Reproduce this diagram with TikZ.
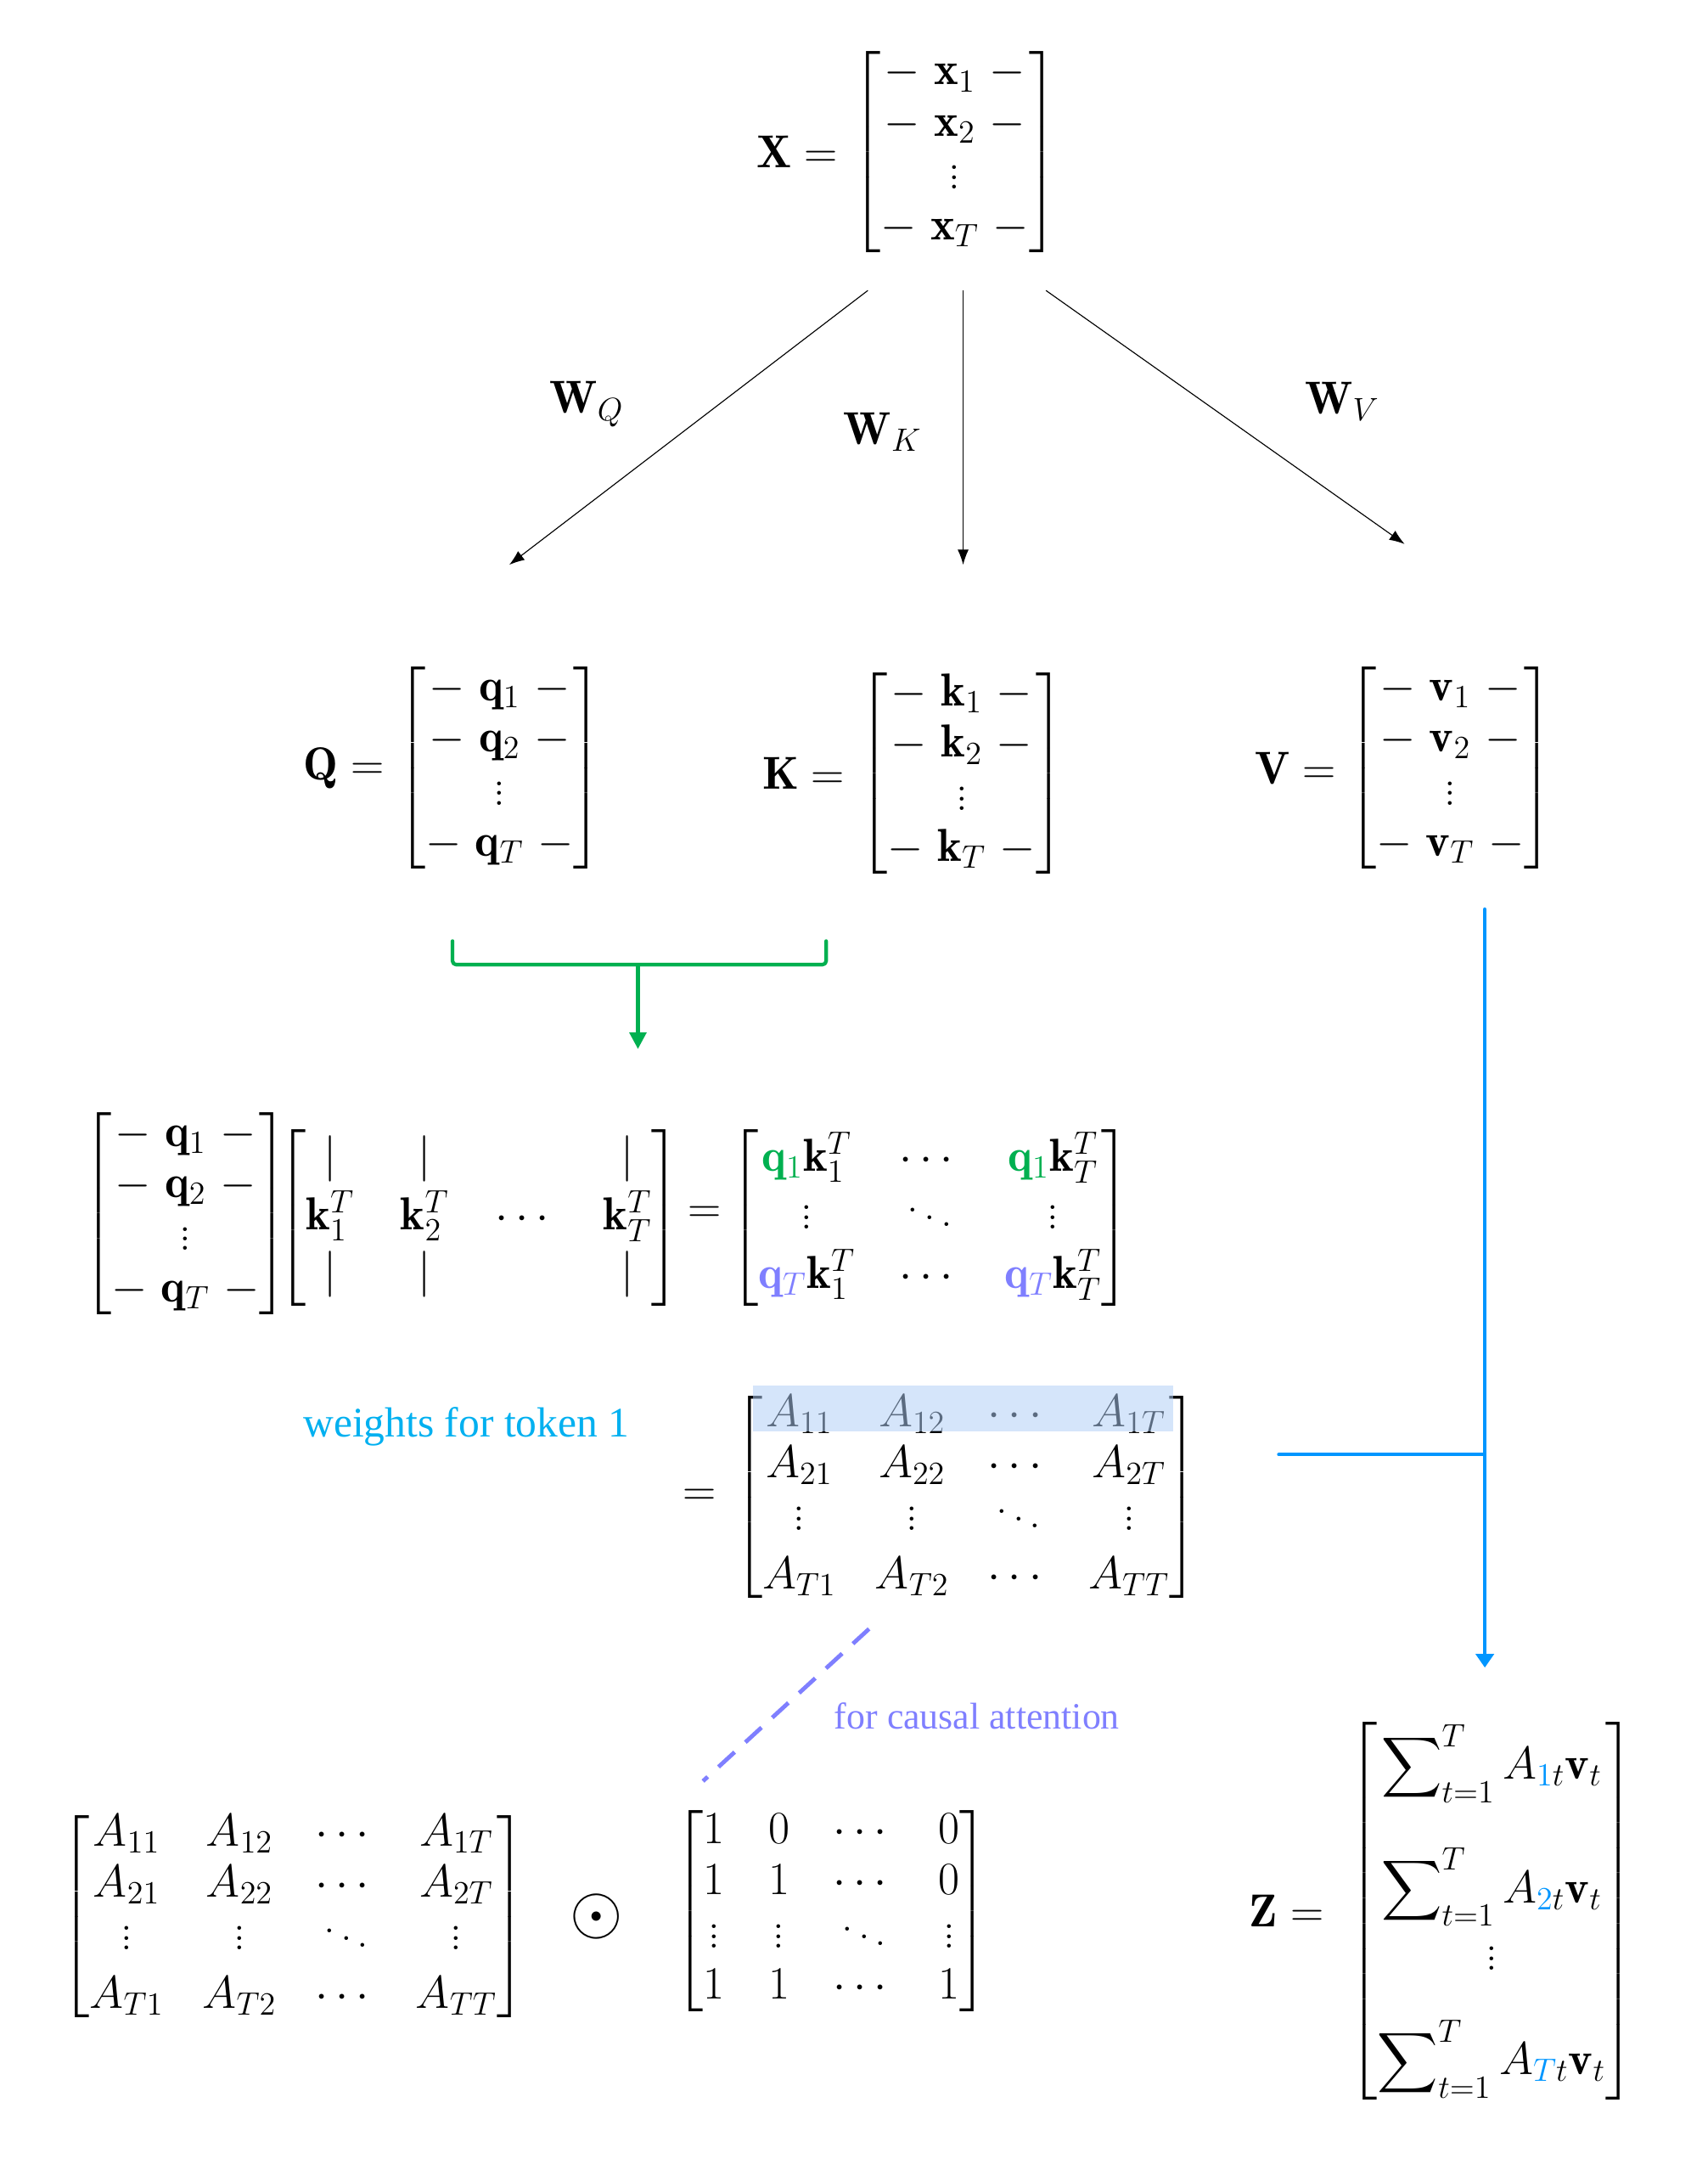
\RequirePackage{fix-cm}
\documentclass[tikz,border=0pt]{standalone}
\usepackage{amsmath}
\usepackage{fontspec}
\newfontfamily\notefont{Liberation Serif}
\usetikzlibrary{arrows.meta,positioning}
\definecolor{qgreen}{RGB}{0,176,80}
\definecolor{qviolet}{RGB}{127,127,255}
\definecolor{zblue}{RGB}{0,150,255}
\definecolor{tokcyan}{RGB}{0,176,240}
\definecolor{rowhl}{RGB}{175,206,246}
\newcommand{\vrow}[2]{{-}\ \mathbf{#1}_{#2}\ {-}}
\newcommand{\zsum}[1]{\displaystyle\sum\nolimits_{t=1}^{T} A_{\textcolor{zblue}{#1}t}\mathbf{v}_t}
\tikzset{attn/.style={
  x={(0.02cm,0cm)},
  y={(0cm,-0.02cm)},
  >=Latex,line join=round,line cap=round
}}
\tikzset{matbox/.style={inner sep=0pt,font=\fontsize{19}{21}\selectfont},
  notetext/.style={inner sep=0pt,font=\notefont\fontsize{16}{19}\selectfont}}

\begin{document}
\begin{tikzpicture}[attn]
  \useasboundingbox (0,0) rectangle (1234,1568);
  \node[matbox] (X) at (690,110) {$\begin{bmatrix} \vrow{x}{1} \\ \vrow{x}{2} \\ \vdots \\ \vrow{x}{T} \end{bmatrix}$};
  \node[matbox,left=0.2cm of X] (Xeq) {$\mathbf{X} =$};
  \node[matbox] (Q) at (361,555) {$\begin{bmatrix} \vrow{q}{1} \\ \vrow{q}{2} \\ \vdots \\ \vrow{q}{T} \end{bmatrix}$};
  \node[matbox,left=0.18cm of Q] (Qeq) {$\mathbf{Q} =$};
  \node[matbox] (K) at (695,559) {$\begin{bmatrix} \vrow{k}{1} \\ \vrow{k}{2} \\ \vdots \\ \vrow{k}{T} \end{bmatrix}$};
  \node[matbox,left=0.2cm of K] (Keq) {$\mathbf{K} =$};
  \node[matbox] (V) at (1048,555) {$\begin{bmatrix} \vrow{v}{1} \\ \vrow{v}{2} \\ \vdots \\ \vrow{v}{T} \end{bmatrix}$};
  \node[matbox,left=0.16cm of V] (Veq) {$\mathbf{V} =$};

  \coordinate (xq) at (627,210);
  \coordinate (xk) at (696,210);
  \coordinate (xv) at (756,210);
  \path (xk |- K.north) ++(0,-76) coordinate (kin);
  \draw[->,thin,>={Latex[length=2.2mm,width=1.6mm]}] (xq) -- ([xshift=0.14cm,yshift=1.44cm]Q.north);
  \draw[->,thin,>={Latex[length=2.2mm,width=1.6mm]}] (xk) -- (kin);
  \draw[->,thin,>={Latex[length=2.2mm,width=1.6mm]}] (xv) -- ([xshift=-0.66cm,yshift=1.74cm]V.north);
  \node[matbox] (WQ) at (424,292) {$\mathbf{W}_Q$};
  \node[matbox] (WK) at (638,312) {$\mathbf{W}_K$};
  \node[matbox] (WV) at (970,290) {$\mathbf{W}_V$};

  \coordinate (gl) at (327,680);
  \coordinate (gr) at (597,680);
  \coordinate (gm) at (461,697);
  \coordinate (gend) at (461,758);
  \draw[qgreen,line width=1.5pt,rounded corners=1.5pt] (gl) -- ++(0,17) -| (gr);
  \draw[->,qgreen,line width=1.5pt,>={Triangle[length=2.4mm,width=2.4mm]}] (gm) -- (gend);

  \node[matbox] (Qrow) at (134,877) {$\begin{bmatrix} \vrow{q}{1} \\ \vrow{q}{2} \\ \vdots \\ \vrow{q}{T} \end{bmatrix}$};
  \node[matbox] (Kcol) at (346,880) {$\setlength{\arraycolsep}{9.5pt}\begin{bmatrix} \vert & \vert & & \vert \\[2pt] \mathbf{k}_1^T & \mathbf{k}_2^T & \cdots & \mathbf{k}_T^T \\[2pt] \vert & \vert & & \vert \end{bmatrix}$};
  \node[matbox] (prodeq) at (509,878) {$=$};
  \node[matbox] (QK) at (672,880) {$\setlength{\arraycolsep}{9pt}\begin{bmatrix} \textcolor{qgreen}{\mathbf{q}_1}\mathbf{k}_1^T & \cdots & \textcolor{qgreen}{\mathbf{q}_1}\mathbf{k}_T^T \\[2pt] \vdots & \ddots & \vdots \\[2pt] \textcolor{qviolet}{\mathbf{q}_T}\mathbf{k}_1^T & \cdots & \textcolor{qviolet}{\mathbf{q}_T}\mathbf{k}_T^T \end{bmatrix}$};

  \node[notetext,text=tokcyan,font=\notefont\fontsize{17.3}{20}\selectfont] (wlbl) at (337,1031) {weights for token 1};
  \node[matbox] (A) at (698,1082) {$\setlength{\arraycolsep}{8pt}\begin{bmatrix} A_{11} & A_{12} & \cdots & A_{1T} \\ A_{21} & A_{22} & \cdots & A_{2T} \\ \vdots & \vdots & \ddots & \vdots \\[3pt] A_{T1} & A_{T2} & \cdots & A_{TT} \end{bmatrix}$};
  \node[matbox,left=0.25cm of A] (Aeq) {$=$};
  \fill[rowhl,fill opacity=0.52] (544,1001) rectangle (848,1034);

  \coordinate (vtop) at (1073,657);
  \coordinate (vbot) at (1073,1205);
  \coordinate (hl) at (924,1051);
  \draw[->,zblue,line width=1.5pt,>={Triangle[length=2mm,width=2.6mm]}] (vtop) -- (vbot);
  \draw[zblue,line width=1.3pt] (hl) -- (hl -| vtop);

  \coordinate (d1) at (628,1177);
  \coordinate (d2) at (508,1287);
  \draw[qviolet,line width=1.7pt,line cap=butt,dash pattern=on 9pt off 6pt] (d1) -- (d2);
  \node[notetext,text=qviolet,font=\notefont\fontsize{15.3}{18}\selectfont] (clbl) at (706,1240) {for causal attention};

  \node[matbox] (Aall) at (212,1385) {$\setlength{\arraycolsep}{8pt}\begin{bmatrix} A_{11} & A_{12} & \cdots & A_{1T} \\ A_{21} & A_{22} & \cdots & A_{2T} \\ \vdots & \vdots & \ddots & \vdots \\[3pt] A_{T1} & A_{T2} & \cdots & A_{TT} \end{bmatrix}$};
  \node[inner sep=0pt,font=\fontsize{28}{30}\selectfont] (odot) at (431,1385) {$\odot$};
  \node[matbox] (Mask) at (601,1381) {$\setlength{\arraycolsep}{9pt}\begin{bmatrix} 1 & 0 & \cdots & 0 \\ 1 & 1 & \cdots & 0 \\ \vdots & \vdots & \ddots & \vdots \\ 1 & 1 & \cdots & 1 \end{bmatrix}$};

  \node[matbox] (Z) at (1078,1381) {$\begin{bmatrix} \zsum{1} \\[22pt] \zsum{2} \\[6pt] \vdots \\[14pt] \zsum{T} \end{bmatrix}$};
  \node[matbox,left=0.36cm of Z] (Zeq) {$\mathbf{Z} =$};
\end{tikzpicture}
\end{document}
